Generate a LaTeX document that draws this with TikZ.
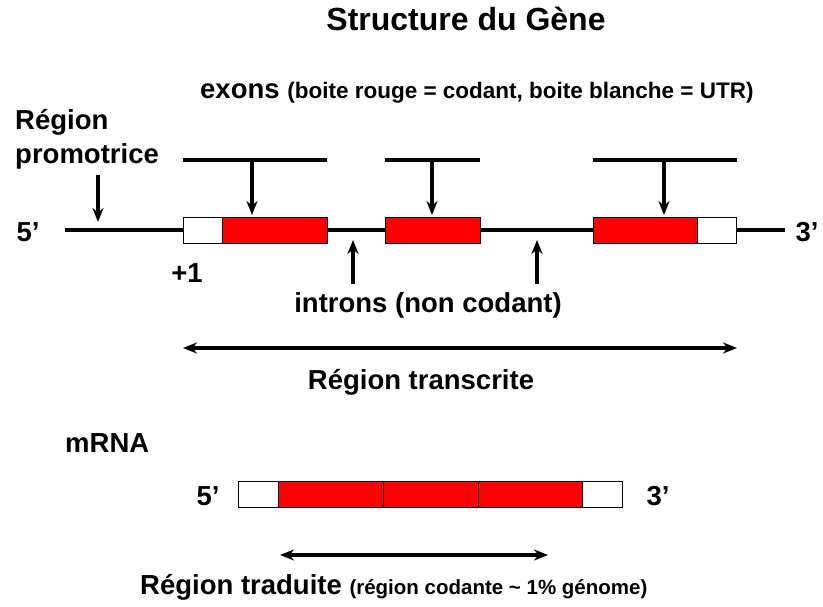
\documentclass[tikz,border=0pt]{standalone}
\usepackage{fontspec}
\setmainfont{Liberation Sans}
\usetikzlibrary{arrows.meta}
\begin{document}
\begin{tikzpicture}[x=1pt,y=-1pt,
  ln/.style={line width=3.6pt},
  arr/.style={line width=3.2pt,-{Stealth[length=14pt,width=11pt]}},
  darr/.style={line width=3.2pt,{Stealth[length=14pt,width=11pt]}-{Stealth[length=14pt,width=11pt]}},
  redb/.style={draw=black,fill=red,line width=1pt},
  whb/.style={draw=black,fill=white,line width=1pt},
  big/.style={font=\bfseries\fontsize{27.5}{34}\selectfont},
  sm/.style={font=\bfseries\fontsize{22.5}{24}\selectfont}]
\useasboundingbox (0,0) rectangle (823,606);
\node[font=\bfseries\fontsize{32}{35}\selectfont] (title) at (466,19) {Structure du Gène};
\node[anchor=west,inner sep=0] (ex) at (200,93) {\bfseries\fontsize{27.5}{30}\selectfont exons \fontsize{22.5}{24}\selectfont(boite rouge = codant, boite blanche = UTR)};
\node[big,anchor=west,inner sep=0,align=left] (prom) at (15,139) {Région\\promotrice};
% main line
\coordinate (L) at (65,230); \coordinate (R) at (785,230);
\draw[ln] (L) -- (R);
\node[big] (f5) at (28,232) {5’};
\node[big] (f3) at (807,232) {3’};
\node[whb,minimum width=39pt,minimum height=26pt,inner sep=0] (w1) at (202.5,230) {};
\node[redb,minimum width=105pt,minimum height=26pt,inner sep=0] (r1) at (274.5,230) {};
\node[redb,minimum width=95pt,minimum height=26pt,inner sep=0] (r2) at (432.5,230) {};
\node[redb,minimum width=104pt,minimum height=26pt,inner sep=0] (r3) at (645,230) {};
\node[whb,minimum width=39pt,minimum height=26pt,inner sep=0] (w3) at (716.5,230) {};
% exon bars
\coordinate (b1a) at (183,160); \coordinate (b1b) at (327,160);
\coordinate (b2a) at (385,160); \coordinate (b2b) at (480,160);
\coordinate (b3a) at (593,160); \coordinate (b3b) at (737,160);
\draw[ln] (b1a) -- (b1b); \draw[ln] (b2a) -- (b2b); \draw[ln] (b3a) -- (b3b);
\coordinate (t1) at (252,160); \coordinate (t2) at (432,160); \coordinate (t3) at (664,160);
\draw[arr] (t1) -- (252,215);
\draw[arr] (t2) -- (432,215);
\draw[arr] (t3) -- (664,215);
\coordinate (pt) at (98,175);
\draw[arr] (pt) -- (98,222);
\node[big] (p1) at (187,273) {+1};
\coordinate (i1) at (353,284); \coordinate (i2) at (537,284);
\draw[arr] (i1) -- (353,240);
\draw[arr] (i2) -- (537,240);
\node[big] (intr) at (428,305) {introns (non codant)};
\coordinate (ta) at (183,348); \coordinate (tb) at (737,348);
\draw[darr] (ta) -- (tb);
\node[big] (trans) at (421,382) {Région transcrite};
% mRNA
\node[big,anchor=west,inner sep=0] (mrna) at (65,443) {mRNA};
\node[whb,minimum width=40pt,minimum height=26pt,inner sep=0] (mw1) at (258,494) {};
\node[redb,minimum width=105pt,minimum height=26pt,inner sep=0] (mr1) at (330.5,494) {};
\node[redb,minimum width=95pt,minimum height=26pt,inner sep=0] (mr2) at (430.5,494) {};
\node[redb,minimum width=104pt,minimum height=26pt,inner sep=0] (mr3) at (530,494) {};
\node[whb,minimum width=40pt,minimum height=26pt,inner sep=0] (mw3) at (602,494) {};
\node[big] (m5) at (208,496) {5’};
\node[big] (m3) at (658,496) {3’};
\coordinate (da) at (280,555); \coordinate (db) at (548,555);
\draw[darr] (da) -- (db);
\node[anchor=west,inner sep=0] (trad) at (140,587) {\bfseries\fontsize{27.5}{30}\selectfont Région traduite \fontsize{20.5}{22}\selectfont(région codante \textasciitilde{} 1\% génome)};
\end{tikzpicture}
\end{document}
